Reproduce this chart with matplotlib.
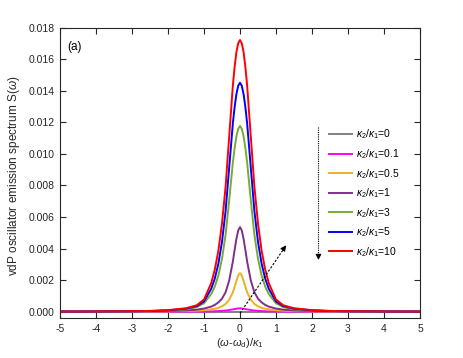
import numpy as np
import matplotlib
matplotlib.use('Agg')
import matplotlib.pyplot as plt

plt.rcParams['font.family'] = ['Liberation Sans', 'DejaVu Sans']
plt.rcParams['mathtext.fontset'] = 'custom'
plt.rcParams['mathtext.rm'] = 'Liberation Sans'
plt.rcParams['mathtext.it'] = 'Liberation Sans:italic'
plt.rcParams['axes.unicode_minus'] = False

# 右半边的取样点 (曲线关于 0 对称)
x_half = [0, 0.05, 0.1, 0.15, 0.2, 0.3, 0.4, 0.5, 0.6, 0.7, 0.8, 1.0, 1.2, 1.5, 2, 2.5, 3, 4, 5]

# 各 kappa2/kappa1 下的谱 (单位 1e-3)
s_k0 = [0] * 19
s_k01 = [0.21, 0.204, 0.189, 0.168, 0.145, 0.105, 0.076, 0.055, 0.040, 0.029, 0.023, 0.015,
         0.010, 0.006, 0.003, 0.002, 0.001, 0.0006, 0.0004]
s_k05 = [2.45, 2.30, 1.96, 1.57, 1.23, 0.76, 0.49, 0.34, 0.245, 0.184, 0.145, 0.093,
         0.066, 0.042, 0.025, 0.015, 0.010, 0.006, 0.004]
s_k1 = [5.36, 5.15, 4.61, 3.91, 3.16, 1.98, 1.23, 0.83, 0.59, 0.43, 0.32, 0.20,
        0.13, 0.08, 0.043, 0.027, 0.016, 0.008, 0.005]
s_k3 = [11.77, 11.59, 11.12, 10.36, 9.42, 7.06, 4.88, 3.35, 2.30, 1.59, 1.12, 0.53,
        0.29, 0.15, 0.071, 0.035, 0.024, 0.012, 0.006]
s_k5 = [14.51, 14.32, 13.78, 12.96, 11.90, 9.14, 6.38, 4.43, 3.05, 2.10, 1.45, 0.65,
        0.36, 0.19, 0.087, 0.044, 0.029, 0.015, 0.007]
s_k10 = [17.22, 17.01, 16.45, 15.50, 14.29, 11.11, 7.92, 5.60, 3.87, 2.67, 1.81, 0.77,
         0.41, 0.22, 0.10, 0.05, 0.034, 0.017, 0.009]

labels = ['0', '0.1', '0.5', '1', '3', '5', '10']
colors = ['#808080', '#FF00FF', '#EDB120', '#7E2F8E', '#77AC30', '#0000FF', '#FF0000']
series = [s_k0, s_k01, s_k05, s_k1, s_k3, s_k5, s_k10]


def mirror(v):
    v = np.asarray(v, dtype=float)
    return np.concatenate([v[:0:-1], v])


x = mirror(x_half)
x[:len(x_half) - 1] *= -1

fig = plt.figure(figsize=(4.63, 3.58), dpi=100)
ax = fig.add_axes([0.1296, 0.1117, 0.7775, 0.8109])

for s, lab, c in zip(series, labels, colors):
    ax.plot(x, mirror(s) * 1e-3, color=c, lw=1.4,
            label=r'$\kappa_2$/$\kappa_1$=' + lab)

ax.set_xlim(-5, 5)
ax.set_ylim(-0.0004, 0.018)
ax.set_xticks(np.arange(-5, 6, 1))
ax.set_yticks(np.arange(0, 0.0181, 0.002))
ax.yaxis.set_major_formatter(matplotlib.ticker.FormatStrFormatter('%.3f'))

dark = '#262626'
for sp in ax.spines.values():
    sp.set_color(dark)
    sp.set_linewidth(0.8)
ax.tick_params(direction='in', top=True, right=True, length=4, width=0.8,
               colors=dark, labelsize=7.5, pad=4)

ax.set_xlabel(r'($\omega$-$\omega_{\rm d}$)/$\kappa_1$', fontsize=8, color=dark, labelpad=2)
ax.set_ylabel(r'vdP oscillator emission spectrum S($\omega$)', fontsize=8.5, color=dark)
ax.yaxis.set_label_coords(-0.105, 0.49)

ax.text(0.02, 0.955, '(a)', transform=ax.transAxes, fontsize=8.5, va='top', color='k')

# 箭头
ax.plot([0, 1.22], [-0.0001, 0.0040], ls=(0, (2, 1.5)), color='k', lw=0.8)
ax.annotate('', xy=(1.33, 0.00435), xytext=(1.2, 0.00395),
            arrowprops=dict(arrowstyle='-|>', color='k', lw=0.8, mutation_scale=8))
ax.plot([2.18, 2.18], [0.0117, 0.0036], ls=(0, (1, 1)), color='k', lw=0.8)
ax.annotate('', xy=(2.18, 0.0031), xytext=(2.18, 0.0037),
            arrowprops=dict(arrowstyle='-|>', color='k', lw=0.8, mutation_scale=8))

ax.legend(loc='upper left', bbox_to_anchor=(0.737, 0.67), frameon=False, fontsize=7.5,
          handlelength=2.2, handletextpad=0.3, labelspacing=0.55, borderaxespad=0)

fig.savefig('out.png', dpi=100)
